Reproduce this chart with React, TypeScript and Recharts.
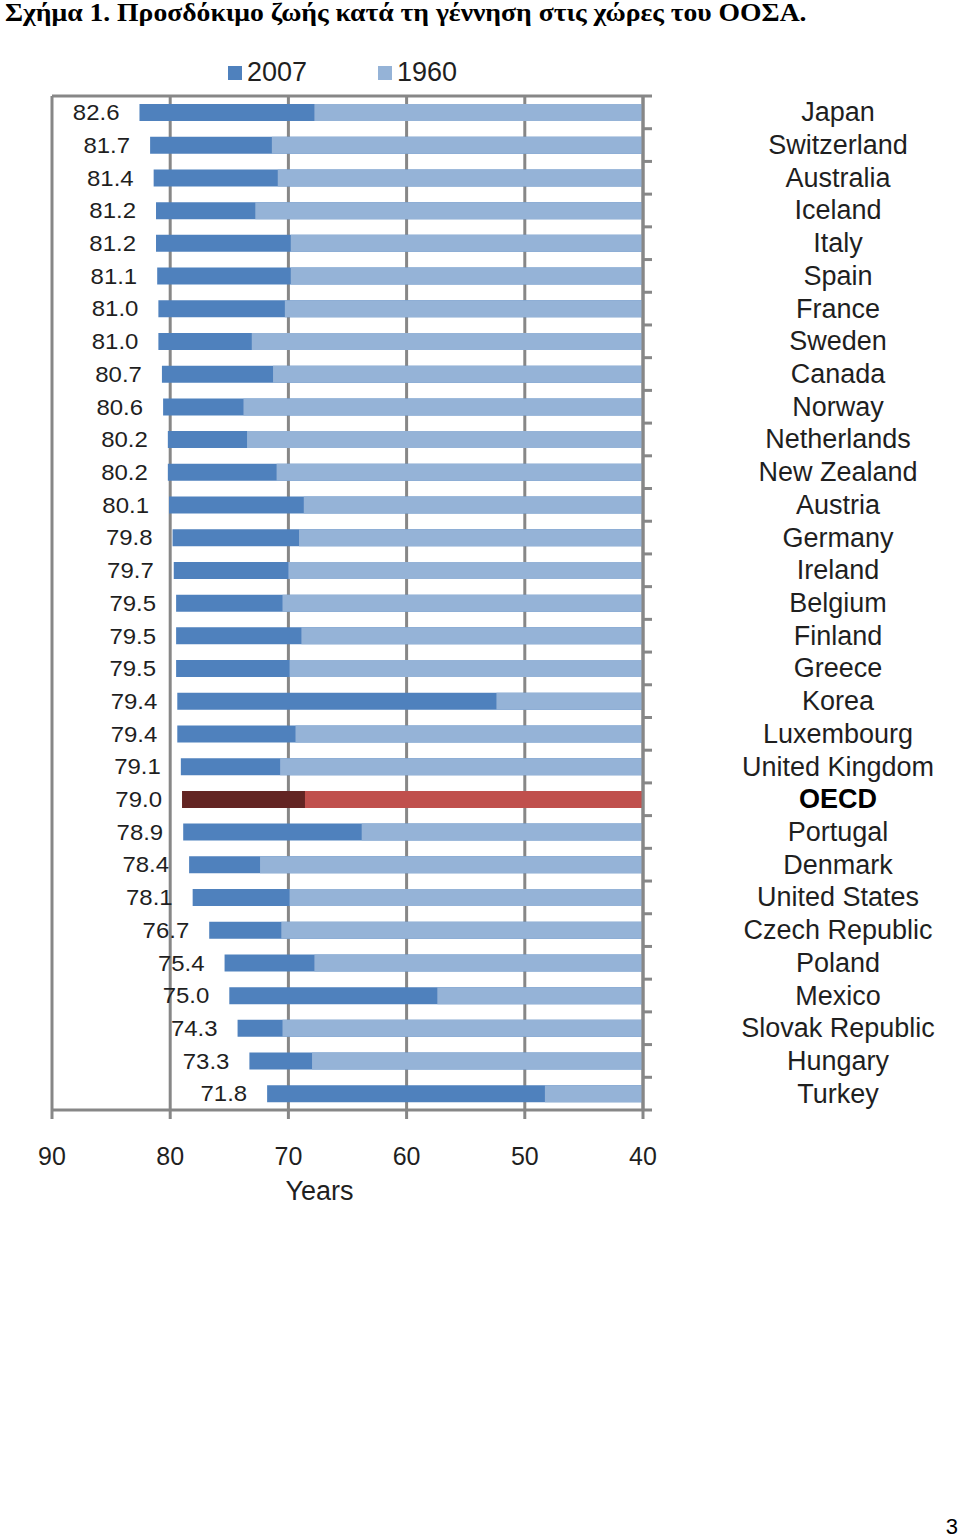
import React from 'react';
import { BarChart, Bar, XAxis, YAxis, CartesianGrid, Legend, Cell, LabelList } from 'recharts';

const countries = [
  'Japan', 'Switzerland', 'Australia', 'Iceland', 'Italy', 'Spain', 'France', 'Sweden',
  'Canada', 'Norway', 'Netherlands', 'New Zealand', 'Austria', 'Germany', 'Ireland',
  'Belgium', 'Finland', 'Greece', 'Korea', 'Luxembourg', 'United Kingdom', 'OECD',
  'Portugal', 'Denmark', 'United States', 'Czech Republic', 'Poland', 'Mexico',
  'Slovak Republic', 'Hungary', 'Turkey',
];
const life2007 = [
  82.6, 81.7, 81.4, 81.2, 81.2, 81.1, 81.0, 81.0, 80.7, 80.6, 80.2, 80.2, 80.1, 79.8, 79.7,
  79.5, 79.5, 79.5, 79.4, 79.4, 79.1, 79.0, 78.9, 78.4, 78.1, 76.7, 75.4, 75.0, 74.3, 73.3, 71.8,
];
const life1960 = [
  67.8, 71.4, 70.9, 72.8, 69.8, 69.8, 70.3, 73.1, 71.3, 73.8, 73.5, 71.0, 68.7, 69.1, 70.0,
  70.5, 68.9, 69.9, 52.4, 69.4, 70.7, 68.6, 63.8, 72.4, 69.9, 70.6, 67.8, 57.4, 70.5, 68.0, 48.3,
];
const seriesNames = ['2007', '1960'];
const xTicks = [90, 80, 70, 60, 50, 40];

const highlight = 'OECD';
const BLUE_DARK = '#4F81BD';
const BLUE_LIGHT = '#95B3D7';
const RED_DARK = '#632523';
const RED_LIGHT = '#C0504D';
const GRID = '#878787';
const TEXT = '#1f1f1f';
const SANS = "'Liberation Sans', Arial, sans-serif";

const data = countries.map((name, i) => ({ name, y2007: life2007[i], y1960: life1960[i] }));

// plot box
const PLOT_LEFT = 52;
const PLOT_TOP = 96;
const PLOT_RIGHT = 643;
const PLOT_BOTTOM = 1110;
const CHART_H = 1210;
const BAND = (PLOT_BOTTOM - PLOT_TOP) / countries.length;

const CountryTick = (props: any) => {
  const { y, payload, index } = props;
  const bold = payload.value === highlight;
  return (
    <g>
      {index === 0 && (
        <line x1={PLOT_RIGHT} x2={PLOT_RIGHT + 9} y1={y - BAND / 2} y2={y - BAND / 2} stroke={GRID} strokeWidth={3} />
      )}
      <line x1={PLOT_RIGHT} x2={PLOT_RIGHT + 9} y1={y + BAND / 2} y2={y + BAND / 2} stroke={GRID} strokeWidth={3} />
      <text
        x={PLOT_RIGHT + 195}
        y={y}
        textAnchor="middle"
        dominantBaseline="central"
        fontFamily={SANS}
        fontSize={27}
        fontWeight={bold ? 'bold' : 'normal'}
        fill={bold ? '#000' : TEXT}
      >
        {payload.value}
      </text>
    </g>
  );
};

const ValueLabel = (props: any) => {
  const { x, y, width, height, value } = props;
  const left = Math.min(x, x + width);
  return (
    <text
      transform={`translate(${left - 20},${y + height / 2}) scale(1.09,1)`}
      textAnchor="end"
      dominantBaseline="central"
      fontFamily={SANS}
      fontSize={22}
      fill={TEXT}
    >
      {Number(value).toFixed(1)}
    </text>
  );
};

const YearsLabel = (props: any) => {
  const vb = props.viewBox || {};
  return (
    <text x={vb.x + vb.width / 2 - 28} y={vb.y + 90} textAnchor="middle" fontFamily={SANS} fontSize={27} fill={TEXT}>
      Years
    </text>
  );
};

const LegendContent = (props: any) => {
  const items = [...(props.payload || [])].sort(
    (a: any, b: any) => seriesNames.indexOf(a.value) - seriesNames.indexOf(b.value)
  );
  return (
    <div style={{ display: 'flex', marginLeft: 228, fontFamily: SANS, fontSize: 27, color: TEXT }}>
      {items.map((it: any, i: number) => (
        <div key={it.value} style={{ display: 'flex', alignItems: 'center', width: i === 0 ? 150 : 'auto' }}>
          <span style={{ display: 'inline-block', width: 14, height: 14, background: it.color, marginRight: 5 }} />
          <span>{it.value}</span>
        </div>
      ))}
    </div>
  );
};

export default function App() {
  return (
    <div style={{ position: 'absolute', left: 0, top: 0, width: 960, height: 1540, background: '#fff' }}>
      <div
        style={{
          position: 'absolute',
          left: 5,
          top: 0,
          fontFamily: "'Liberation Serif', 'Times New Roman', serif",
          fontWeight: 'bold',
          fontSize: 25,
          lineHeight: '25px',
          whiteSpace: 'nowrap',
          color: '#000',
          transform: 'scaleX(1.105)',
          transformOrigin: 'left top',
        }}
      >
        Σχήμα 1. Προσδόκιμο ζωής κατά τη γέννηση στις χώρες του ΟΟΣΑ.
      </div>
      <BarChart
        width={960}
        height={CHART_H}
        data={data}
        layout="vertical"
        margin={{ top: PLOT_TOP, right: 0, left: PLOT_LEFT, bottom: 0 }}
        barSize={17}
        barGap={-17}
      >
        <CartesianGrid stroke={GRID} strokeWidth={3} horizontalPoints={[PLOT_TOP]} strokeOpacity={1} />
        <XAxis
          type="number"
          domain={[40, 90]}
          ticks={xTicks}
          reversed
          height={CHART_H - PLOT_BOTTOM}
          axisLine={{ stroke: GRID, strokeWidth: 3 }}
          tickLine={{ stroke: GRID, strokeWidth: 3 }}
          tickSize={9}
          tickMargin={28}
          tick={{ fontFamily: SANS, fontSize: 25, fill: TEXT }}
          interval={0}
          label={<YearsLabel />}
        />
        <YAxis
          type="category"
          dataKey="name"
          orientation="right"
          width={960 - PLOT_RIGHT}
          axisLine={{ stroke: GRID, strokeWidth: 3 }}
          tickLine={false}
          tick={<CountryTick />}
          interval={0}
        />
        <Legend
          layout="horizontal"
          verticalAlign="middle"
          align="center"
          wrapperStyle={{ top: 57, left: 0, width: 960 }}
          content={<LegendContent />}
        />
        <Bar dataKey="y2007" name="2007" fill={BLUE_DARK} isAnimationActive={false}>
          {data.map((d) => (
            <Cell key={d.name} fill={d.name === highlight ? RED_DARK : BLUE_DARK} />
          ))}
          <LabelList dataKey="y2007" content={<ValueLabel />} />
        </Bar>
        <Bar dataKey="y1960" name="1960" fill={BLUE_LIGHT} isAnimationActive={false}>
          {data.map((d) => (
            <Cell key={d.name} fill={d.name === highlight ? RED_LIGHT : BLUE_LIGHT} />
          ))}
        </Bar>
      </BarChart>
      <div
        style={{
          position: 'absolute',
          right: 2,
          top: 1514,
          fontFamily: SANS,
          fontSize: 22,
          color: '#000',
        }}
      >
        3
      </div>
    </div>
  );
}
